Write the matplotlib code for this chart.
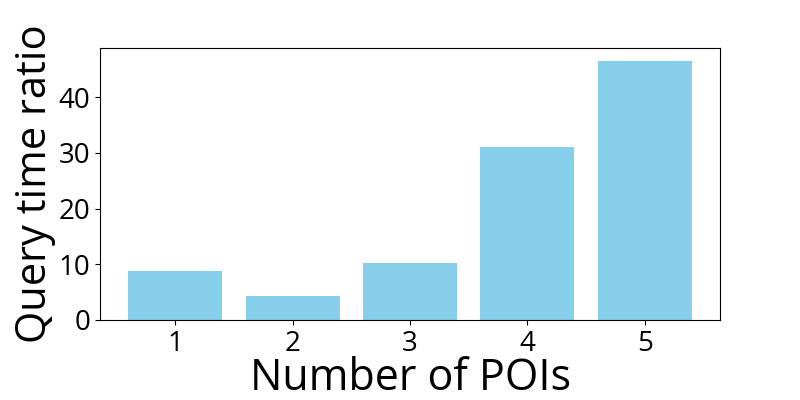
import matplotlib
matplotlib.use('Agg')
import matplotlib.pyplot as plt

# data
num_pois = ['1', '2', '3', '4', '5']
query_time_ratio = [8.8, 4.3, 10.2, 31.0, 46.5]

plt.rcParams['font.family'] = ['Open Sans', 'DejaVu Sans']

fig, ax = plt.subplots(figsize=(8, 4), dpi=100)
fig.subplots_adjust(left=0.125, right=0.9, top=0.88, bottom=0.2)

ax.bar(num_pois, query_time_ratio, color='skyblue')
ax.set_xlabel('Number of POIs', fontsize=31, labelpad=-1)
ax.set_ylabel('Query time ratio', fontsize=30, labelpad=2)
ax.tick_params(axis='both', labelsize=20)
ax.set_yticks([0, 10, 20, 30, 40])

fig.savefig('out.png')
